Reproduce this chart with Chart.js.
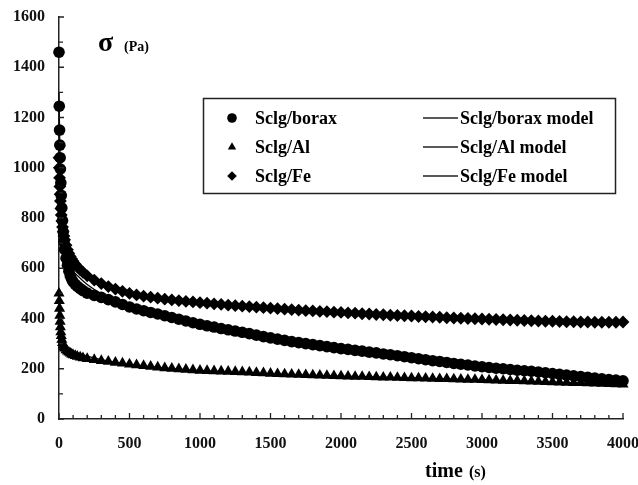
<!DOCTYPE html>
<html>
<head>
<meta charset="utf-8">
<script src="https://cdn.jsdelivr.net/npm/chart.js@4.4.1/dist/chart.umd.min.js"></script>
<style>
  body { margin: 0; background: #fff; }
  #wrap { width: 638px; height: 485px; }
</style>
</head>
<body>
<div id="wrap"><canvas id="relaxChart" width="638" height="485"></canvas></div>
<script>
// time (s) of each measured point
var times = [0,2,4,6,8,10,13,16,20,25,30,35,40,50,60,70,80,90,100,115,130,150,170,200,
  250,300,350,400,450,500,550,600,650,700,750,800,850,900,950,1000,
  1050,1100,1150,1200,1250,1300,1350,1400,1450,1500,1550,1600,1650,1700,1750,1800,1850,1900,1950,2000,
  2050,2100,2150,2200,2250,2300,2350,2400,2450,2500,2550,2600,2650,2700,2750,2800,2850,2900,2950,3000,
  3050,3100,3150,3200,3250,3300,3350,3400,3450,3500,3550,3600,3650,3700,3750,3800,3850,3900,3950,4000];

// stress sigma (Pa)
var boraxData = [1460,1245,1150,1090,1040,995,940,890,840,790,745,705,675,640,612,588,570,556,546,536,528,519,511,501,
  492,484,475,466,456,446,438,431,424,418,411,404,397,390,383,377,
  371,366,360,355,350,345,340,334,328,323,318,313,308,304,300,296,292,288,284,280,
  277,273,270,266,263,259,256,252,248,244,240,236,232,229,225,221,218,215,211,208,
  205,202,200,197,194,192,190,187,184,181,178,175,172,169,166,163,160,157,155,152];

var alData = [500,470,440,412,388,366,346,331,316,303,293,286,281,274,269,265,261,258,255,252,249,246,243,240,
  236,232,229,225,222,218,215,212,209,206,203,201,199,197,195,193,
  192,191,190,189,188,187,186,184,183,181,180,179,178,177,176,175,174,173,172,171,
  170,169,169,168,167,166,166,165,164,163,163,162,161,160,160,159,158,157,157,156,
  155,154,153,152,152,151,150,149,148,147,146,145,144,144,143,142,141,140,139,138];

var feData = [1040,1000,960,925,895,868,838,812,788,764,745,728,713,692,674,659,647,637,628,616,606,594,584,570,
  553,539,527,517,508,500,494,489,485,481,477,474,471,468,466,463,
  461,458,456,453,451,449,447,445,443,441,439,437,435,433,431,430,428,427,425,424,
  422,421,419,418,416,415,413,412,411,410,408,407,406,405,403,402,401,400,399,398,
  397,396,395,394,393,392,391,390,389,389,388,387,387,386,386,385,385,385,385,386];

// model curves
var modelTimes = [0,10,20,40,70,100,150,200,300,400,500,700,1000,1500,2000,2500,3000,3500,4000];
var boraxModel = [1300,960,830,700,620,590,560,535,498,470,450,418,378,322,280,244,208,181,152];
var alModel = [470,370,330,300,283,272,260,250,236,226,218,206,193,180,171,164,156,147,138];
var feModel = [1000,860,785,712,660,630,595,570,539,517,500,481,463,441,424,410,398,388,386];

var yTicks = [0,200,400,600,800,1000,1200,1400,1600];
var xTicks = [0,500,1000,1500,2000,2500,3000,3500,4000];

function pts(xs, ys) {
  return xs.map(function (x, i) { return { x: x, y: ys[i] }; });
}

var serif = "'Liberation Serif', 'DejaVu Serif', serif";

function pointSet(label, style, xs, ys, r) {
  return {
    label: label, data: pts(xs, ys), showLine: false,
    pointStyle: style, pointRadius: r, pointHoverRadius: r,
    pointBackgroundColor: '#000', pointBorderWidth: 0, clip: false
  };
}
function modelSet(label, xs, ys) {
  return {
    label: label, data: pts(xs, ys), showLine: true, pointRadius: 0,
    borderColor: '#000', borderWidth: 1.2, cubicInterpolationMode: 'monotone', clip: false
  };
}

// inner ticks, axis captions and the boxed legend
var decor = {
  id: 'decor',
  afterDraw: function (chart) {
    var ctx = chart.ctx, xs = chart.scales.x, ys = chart.scales.y, a = chart.chartArea;
    ctx.save();
    ctx.strokeStyle = '#222';
    ctx.lineWidth = 1.3;
    ctx.beginPath();
    for (var v = 0; v <= 1600; v += 100) {
      var py = ys.getPixelForValue(v);
      ctx.moveTo(a.left, py);
      ctx.lineTo(a.left + (v % 200 == 0 ? 5 : 4), py);
    }
    for (var t = 0; t <= 4000; t += 100) {
      var px = xs.getPixelForValue(t);
      ctx.moveTo(px, a.bottom);
      ctx.lineTo(px, a.bottom - (t % 500 == 0 ? 6 : 4));
    }
    ctx.stroke();

    ctx.fillStyle = '#000';
    ctx.textBaseline = 'alphabetic';
    ctx.textAlign = 'left';
    ctx.font = 'bold 28px ' + serif;
    ctx.fillText('\u03C3', 98, 51);
    ctx.font = 'bold 14px ' + serif;
    ctx.fillText('(Pa)', 124, 51);

    ctx.font = 'bold 20px ' + serif;
    ctx.fillText('time', 425, 477);
    ctx.font = 'bold 16px ' + serif;
    ctx.fillText('(s)', 469, 477);

    // legend box
    ctx.lineWidth = 1.5;
    ctx.strokeStyle = '#222';
    ctx.strokeRect(203.5, 98.5, 412, 95);
    var rows = [[0, 3], [1, 4], [2, 5]];
    ctx.font = 'bold 18px ' + serif;
    ctx.textBaseline = 'middle';
    rows.forEach(function (r, i) {
      var y = 118 + i * 29;
      var d = chart.data.datasets[r[0]];
      Chart.helpers.drawPoint(ctx, { pointStyle: d.pointStyle, radius: 4.8, rotation: 0, borderWidth: 0 }, 232, y);
      ctx.fillText(d.label, 255, y + 1);
      ctx.beginPath();
      ctx.lineWidth = 1.5;
      ctx.moveTo(423, y);
      ctx.lineTo(458, y);
      ctx.stroke();
      ctx.fillText(chart.data.datasets[r[1]].label, 460, y + 1);
    });
    ctx.restore();
  }
};

Chart.defaults.font.family = serif;
Chart.defaults.color = '#111';

function plain(v) { return String(v); }

new Chart(document.getElementById('relaxChart').getContext('2d'), {
  type: 'scatter',
  data: {
    datasets: [
      pointSet('Sclg/borax', 'circle', times, boraxData, 5.8),
      pointSet('Sclg/Al', 'triangle', times, alData, 6.4),
      pointSet('Sclg/Fe', 'rectRot', times, feData, 6.4),
      modelSet('Sclg/borax model', modelTimes, boraxModel),
      modelSet('Sclg/Al model', modelTimes, alModel),
      modelSet('Sclg/Fe model', modelTimes, feModel)
    ]
  },
  options: {
    responsive: false,
    animation: false,
    layout: { padding: { top: 17, right: 15, left: 0, bottom: 0 } },
    plugins: { legend: { display: false }, tooltip: { enabled: false } },
    scales: {
      x: {
        type: 'linear', min: 0, max: 4000,
        afterBuildTicks: function (s) { s.ticks = xTicks.map(function (v) { return { value: v }; }); },
        afterFit: function (s) { s.height = 66; s.paddingLeft = 0; s.paddingRight = 0; },
        grid: { drawOnChartArea: false, drawTicks: false },
        border: { display: true, color: '#222', width: 1.5 },
        ticks: { padding: 15, font: { size: 16, weight: 'bold' }, color: '#111', maxRotation: 0, callback: plain }
      },
      y: {
        min: 0, max: 1600,
        afterBuildTicks: function (s) { s.ticks = yTicks.map(function (v) { return { value: v }; }); },
        afterFit: function (s) { s.width = 59; s.paddingTop = 0; s.paddingBottom = 0; },
        grid: { drawOnChartArea: false, drawTicks: false },
        border: { display: true, color: '#222', width: 1.5 },
        ticks: { padding: 14, font: { size: 16, weight: 'bold' }, color: '#111', callback: plain }
      }
    }
  },
  plugins: [decor]
});
</script>
</body>
</html>
